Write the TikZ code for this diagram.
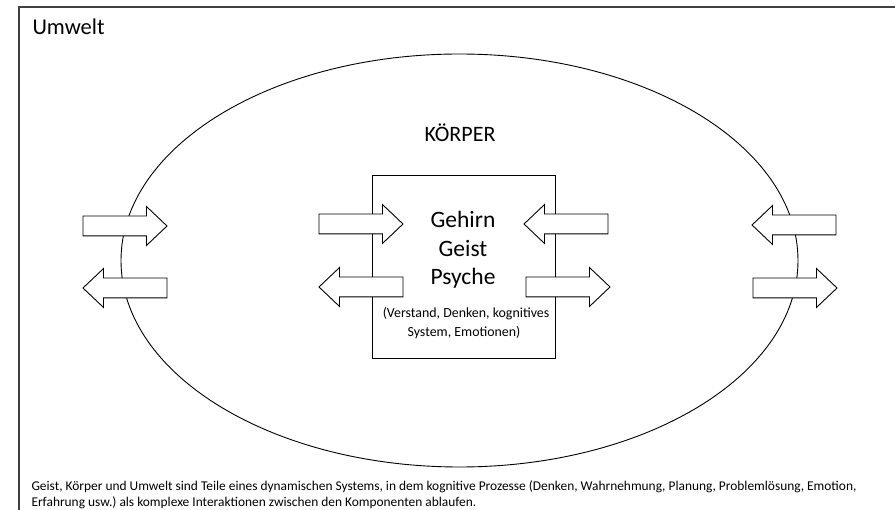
\documentclass[tikz,border=0pt]{standalone}
\usepackage{fontspec}
\setmainfont{Carlito}
\frenchspacing
\usetikzlibrary{shapes.arrows}
\newcommand{\umpfeil}[3] {\node at (#2) (#1) [pfeil, shape border rotate=#3, anchor=tip] {};}
\newcommand{\zeile}[4] {\node at (#2) (#1) [anchor=base, font=#3] {#4};}

\begin{document}
\begin{tikzpicture}[x=1pt, y=-1pt,
  pfeil/.style={single arrow, draw, fill=white, line width=0.9pt, inner xsep=0pt, inner ysep=9.5pt,
    minimum width=0pt, minimum height=84pt, single arrow head extend=9.5pt,
    single arrow tip angle=87, outer sep=0pt}]
\useasboundingbox (0,0) rectangle (895,510);
\draw [line width=1.5pt, black!75] (19,510) -- (19,7) -- (895,7);
\draw [line width=0.9pt] (459.5,260.5) ellipse [x radius=338.5, y radius=206.5];
\node at (463.5,266.5) (gehirn) [draw, line width=0.9pt, minimum width=183pt, minimum height=183pt] {};

\umpfeil {inL} {167,226} {0};
\umpfeil {outL} {83,288} {180};
\umpfeil {inG} {403,224} {0};
\umpfeil {outG} {319,287} {180};
\umpfeil {inK} {524,224} {180};
\umpfeil {outK} {610,287} {0};
\umpfeil {inR} {752,225} {180};
\umpfeil {outR} {837,288} {0};

\node at (29,34.5) (umwelt) [anchor=base west, font=\fontsize{22.5}{27}\selectfont] {Umwelt};
\zeile {koerper} {460,142} {\fontsize{22}{26}\selectfont} {KÖRPER};
\zeile {gehirntext} {463,228} {\fontsize{23.5}{28}\selectfont} {Gehirn};
\zeile {geist} {463,256.5} {\fontsize{23.5}{28}\selectfont} {Geist};
\zeile {psyche} {463,285} {\fontsize{23.5}{28}\selectfont} {Psyche};
\zeile {verstand} {466,318} {\fontsize{13.9}{16}\selectfont} {(Verstand, Denken, kognitives};
\zeile {system} {464,336.5} {\fontsize{13.9}{16}\selectfont} {System, Emotionen)};
%\node at (28,507) {caption};
\node at (28,507) (text) [anchor=base west, align=left, font=\fontsize{13.4}{16}\selectfont]
  {Geist, Körper und Umwelt sind Teile eines dynamischen Systems, in dem kognitive Prozesse (Denken, Wahrnehmung, Planung, Problemlösung, Emotion,\\
   Erfahrung usw.) als komplexe Interaktionen zwischen den Komponenten ablaufen.};
\end{tikzpicture}
\end{document}
